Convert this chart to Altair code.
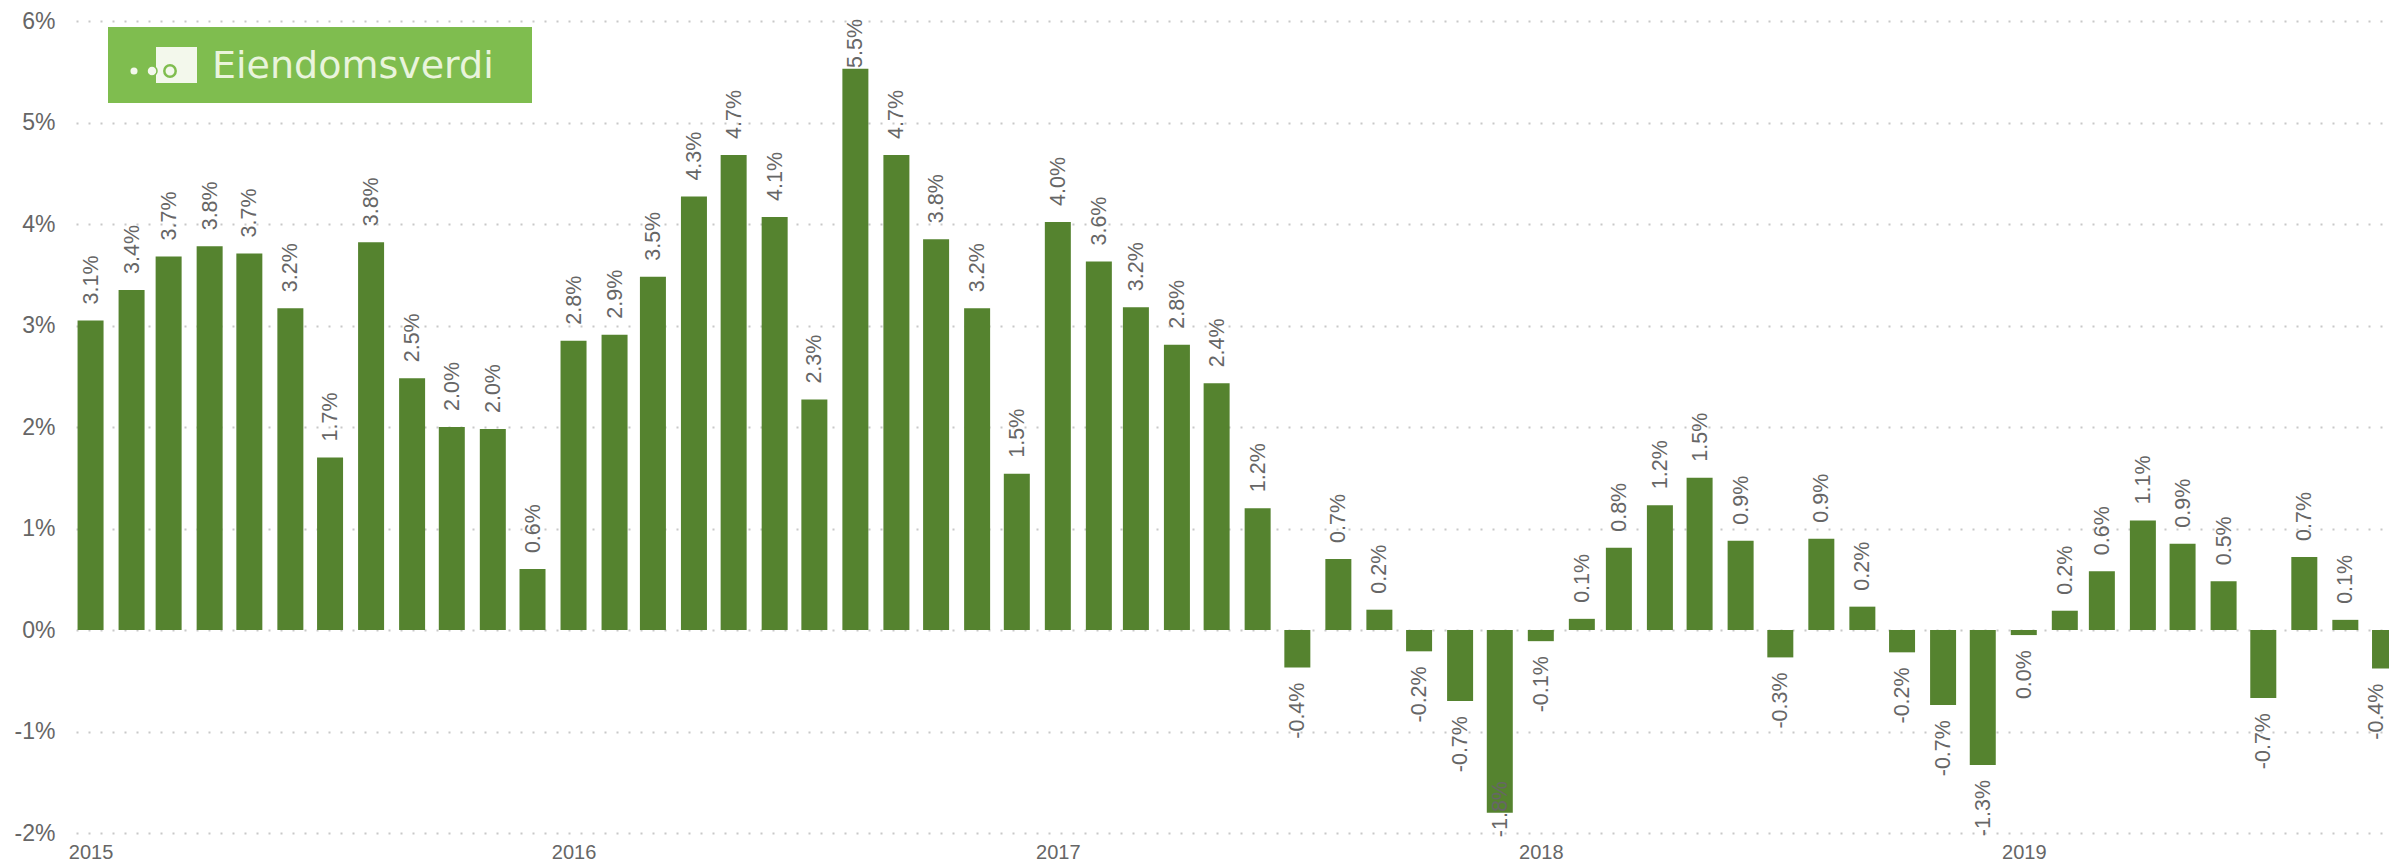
import altair as alt
import pandas as pd

months = pd.date_range("2015-01-01", "2019-10-01", freq="MS").strftime("%Y-%m-%dT00:00:00").tolist()
values = [
    3.05, 3.35, 3.68, 3.78, 3.71, 3.17, 1.70, 3.82, 2.48, 2.00, 1.98, 0.60,
    2.85, 2.91, 3.48, 4.27, 4.68, 4.07, 2.27, 5.53, 4.68, 3.85, 3.17, 1.54,
    4.02, 3.63, 3.18, 2.81, 2.43, 1.20, -0.37, 0.70, 0.20, -0.21, -0.70, -1.80,
    -0.11, 0.11, 0.81, 1.23, 1.50, 0.88, -0.27, 0.90, 0.23, -0.22, -0.74, -1.33,
    -0.05, 0.19, 0.58, 1.08, 0.85, 0.48, -0.67, 0.72, 0.10, -0.38,
]
labels = [
    "3.1%", "3.4%", "3.7%", "3.8%", "3.7%", "3.2%", "1.7%", "3.8%", "2.5%", "2.0%", "2.0%", "0.6%",
    "2.8%", "2.9%", "3.5%", "4.3%", "4.7%", "4.1%", "2.3%", "5.5%", "4.7%", "3.8%", "3.2%", "1.5%",
    "4.0%", "3.6%", "3.2%", "2.8%", "2.4%", "1.2%", "-0.4%", "0.7%", "0.2%", "-0.2%", "-0.7%", "-1.8%",
    "-0.1%", "0.1%", "0.8%", "1.2%", "1.5%", "0.9%", "-0.3%", "0.9%", "0.2%", "-0.2%", "-0.7%", "-1.3%",
    "0.0%", "0.2%", "0.6%", "1.1%", "0.9%", "0.5%", "-0.7%", "0.7%", "0.1%", "-0.4%",
]
year_ticks = ["2015-01-01T00:00:00", "2016-01-01T00:00:00", "2017-01-01T00:00:00", "2018-01-01T00:00:00", "2019-01-01T00:00:00"]
y_ticks = [-2, -1, 0, 1, 2, 3, 4, 5, 6]
x_domain = ["2014-12-21T00:00:00", "2019-10-04T00:00:00"]
logo_name = ["Eiendomsverdi"]

GREEN = "#55832F"
GREY = "#666666"
LOGO = "#7FBD4F"
LOGO_LIGHT = "#F3F8EC"

df = pd.DataFrame({"month": months, "v": values, "label": labels, "last": [i == len(months) - 1 for i in range(len(months))]})

x = alt.X("month:T", scale=alt.Scale(domain=x_domain, padding=0), title=None,
          axis=alt.Axis(values=year_ticks, format="%Y", grid=False, domain=False, ticks=False,
                        labelFontSize=20, labelColor=GREY, labelFont="Liberation Sans", labelPadding=9,
                        labelOverlap=False, labelFlush=False))
y = alt.Y("v:Q", scale=alt.Scale(domain=[-2, 6], nice=False), title=None,
          axis=alt.Axis(values=y_ticks, labelExpr="datum.value + '%'", domain=False, ticks=False,
                        grid=True, gridColor="#c8c8c8", gridDash=[2, 10], gridWidth=2,
                        labelFontSize=23, labelColor=GREY, labelFont="Liberation Sans", labelPadding=21))

bars = alt.Chart(df).mark_bar(color=GREEN, size=26).encode(x=x, y=y, y2=alt.datum(0))

# Labels that would leave the plot are held inside it, as in the reference
text_base = alt.Chart(df).transform_calculate(anchor="min(max(datum.v, -1.34), 5.38)")
text_style = dict(angle=270, baseline="middle", fontSize=21.5, color=GREY, font="Liberation Sans")
pos = text_base.transform_filter("datum.v >= 0").mark_text(
    align="left", dx=16, dy=1, **text_style
).encode(x="month:T", y="anchor:Q", text="label:N")
neg = text_base.transform_filter("datum.v < 0 && !datum.last").mark_text(
    align="right", dx=-15, dy=1, **text_style
).encode(x="month:T", y="anchor:Q", text="label:N")
# The last label sits at the page edge and is nudged left so it stays whole
neg_last = text_base.transform_filter("datum.last").mark_text(
    align="right", dx=-15, dy=-8, **text_style
).encode(x="month:T", y="anchor:Q", text="label:N")

# Logo badge
logo_data = pd.DataFrame({"t": logo_name})
logo_bg = alt.Chart(logo_data).mark_rect(color=LOGO).encode(
    x=alt.value(32), x2=alt.value(456), y=alt.value(6), y2=alt.value(82))
logo_shape = alt.Chart(logo_data).mark_rect(color=LOGO_LIGHT).encode(
    x=alt.value(80), x2=alt.value(121), y=alt.value(26), y2=alt.value(62))
logo_text = alt.Chart(logo_data).mark_text(
    align="left", baseline="alphabetic", fontSize=38, color="#E9F4DC", font="DejaVu Sans"
).encode(x=alt.value(136), y=alt.value(57), text="t:N")
dot1 = alt.Chart(logo_data).mark_circle(color=LOGO_LIGHT, size=50, opacity=1).encode(
    x=alt.value(58), y=alt.value(50))
dot2 = alt.Chart(logo_data).mark_point(filled=True, fill=LOGO_LIGHT, stroke=LOGO, strokeWidth=1.5, size=100, opacity=1).encode(
    x=alt.value(76), y=alt.value(50))
ring = alt.Chart(logo_data).mark_point(filled=False, stroke=LOGO, strokeWidth=2.5, size=130, opacity=1).encode(
    x=alt.value(94), y=alt.value(50))

chart = alt.layer(bars, pos, neg, neg_last, logo_bg, logo_shape, dot1, dot2, ring, logo_text).properties(
    width=2313, height=812,
    padding={"left": 68, "top": 13, "right": 0, "bottom": 33},
    autosize=alt.AutoSizeParams(type="none"),
    background="white",
).configure_view(stroke=None)

chart.save("out.html", embed_options={"renderer": "svg", "actions": False})
